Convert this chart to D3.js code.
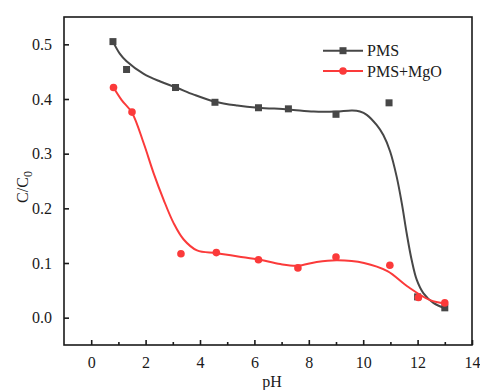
<!DOCTYPE html>
<html>
<head>
<meta charset="utf-8">
<script src="https://cdn.jsdelivr.net/npm/d3@7"></script>
<style>
  html, body { margin: 0; padding: 0; background: #ffffff; }
  svg { display: block; }
  text { font-family: "Liberation Serif", "Times New Roman", serif; fill: #1a1a1a; }
</style>
</head>
<body>
<svg id="chart" width="480" height="390"></svg>
<script>
// Measured points: pH vs C/C0
const phPMS  = [0.8, 1.3, 3.1, 4.55, 6.15, 7.25, 9.0, 10.95, 12.0, 13.0];
const valPMS = [0.505, 0.454, 0.421, 0.394, 0.384, 0.382, 0.372, 0.393, 0.038, 0.018];
const phMgO  = [0.82, 1.5, 3.3, 4.6, 6.15, 7.6, 9.0, 10.98, 12.03, 13.0];
const valMgO = [0.421, 0.376, 0.117, 0.119, 0.106, 0.091, 0.111, 0.096, 0.037, 0.027];

// Fitted trend lines (pH, C/C0)
const fitPMS = [
  [0.8, 0.505], [1.05, 0.483], [1.3, 0.469], [1.93, 0.446], [2.54, 0.432], [3.13, 0.421],
  [3.77, 0.408], [4.55, 0.395], [5.37, 0.388], [6.14, 0.384], [7.26, 0.381],
  [8.18, 0.377], [8.99, 0.377], [9.6, 0.379], [9.88, 0.377], [10.13, 0.371],
  [10.5, 0.352], [10.74, 0.334], [10.99, 0.304], [11.23, 0.258], [11.42, 0.209],
  [11.6, 0.154], [11.78, 0.106], [11.97, 0.069], [12.21, 0.045], [12.58, 0.027],
  [12.96, 0.018]
];
const fitMgO = [
  [0.82, 0.421], [1.12, 0.398], [1.5, 0.375], [1.93, 0.319], [2.29, 0.265],
  [2.66, 0.216], [3.03, 0.173], [3.4, 0.143], [3.89, 0.123], [4.6, 0.118],
  [5.4, 0.112], [6.2, 0.106], [6.95, 0.098], [7.58, 0.095], [8.29, 0.102],
  [9.05, 0.105], [10.03, 0.100], [10.89, 0.085], [11.63, 0.057], [12.46, 0.032],
  [13.0, 0.026]
];

const xTicks = [0, 2, 4, 6, 8, 10, 12, 14];
const xMinorTicks = [1, 3, 5, 7, 9, 11, 13];
const yTicks = [0.0, 0.1, 0.2, 0.3, 0.4, 0.5];
const seriesNames = ["PMS", "PMS+MgO"];

const colPMS = "#474747";
const colMgO = "#fb3a3a";

const svg = d3.select("#chart");
const plotLeft = 64, plotRight = 472, plotTop = 17, plotBottom = 345;

const x = d3.scaleLinear().domain([-1, 14]).range([plotLeft, plotRight]);
const y = d3.scaleLinear().domain([-0.05, 0.55]).range([plotBottom, plotTop]);

// Plot frame
svg.append("rect")
  .attr("x", plotLeft).attr("y", plotTop)
  .attr("width", plotRight - plotLeft).attr("height", plotBottom - plotTop)
  .attr("fill", "none").attr("stroke", "#1a1a1a").attr("stroke-width", 1.6);

// Axes with inward ticks
const xAxis = svg.append("g").attr("transform", `translate(0,${plotBottom})`)
  .call(d3.axisBottom(x).tickValues(xTicks).tickSizeInner(-5).tickSizeOuter(0)
    .tickPadding(12).tickFormat(d3.format("d")));
const xMinor = svg.append("g").attr("transform", `translate(0,${plotBottom})`)
  .call(d3.axisBottom(x).tickValues(xMinorTicks).tickSizeInner(-3).tickSizeOuter(0)
    .tickFormat(""));
const yAxis = svg.append("g").attr("transform", `translate(${plotLeft},0)`)
  .call(d3.axisLeft(y).tickValues(yTicks).tickSizeInner(-5).tickSizeOuter(0)
    .tickPadding(12).tickFormat(d3.format(".1f")));

[xAxis, xMinor, yAxis].forEach(g => {
  g.select(".domain").remove();
  g.selectAll("line").attr("stroke", "#1a1a1a").attr("stroke-width", 1.6);
  g.selectAll("text").attr("font-size", 16)
    .attr("font-family", "'Liberation Serif', 'Times New Roman', serif")
    .attr("fill", "#1a1a1a");
});

// Axis titles
svg.append("text")
  .attr("x", (plotLeft + plotRight) / 2 + 4).attr("y", 387)
  .attr("text-anchor", "middle").attr("font-size", 16).text("pH");

const yt = svg.append("text")
  .attr("transform", "translate(28,187) rotate(-90)")
  .attr("text-anchor", "middle").attr("font-size", 16);
yt.append("tspan").text("C/C");
yt.append("tspan").attr("font-size", 12).attr("dy", 4).text("0");

// Trend lines
const line = d3.line()
  .x(d => x(d[0])).y(d => y(d[1]))
  .curve(d3.curveCatmullRom.alpha(0.5));

svg.append("path").datum(fitPMS).attr("d", line)
  .attr("fill", "none").attr("stroke", colPMS).attr("stroke-width", 2);

svg.append("g").selectAll("rect").data(phPMS.map((p, i) => [p, valPMS[i]]))
  .join("rect")
  .attr("x", d => x(d[0]) - 3.5).attr("y", d => y(d[1]) - 3.5)
  .attr("width", 7).attr("height", 7).attr("fill", colPMS);

svg.append("path").datum(fitMgO).attr("d", line)
  .attr("fill", "none").attr("stroke", colMgO).attr("stroke-width", 2);

svg.append("g").selectAll("circle").data(phMgO.map((p, i) => [p, valMgO[i]]))
  .join("circle")
  .attr("cx", d => x(d[0])).attr("cy", d => y(d[1]))
  .attr("r", 3.8).attr("fill", colMgO);

// Legend
const legend = svg.append("g");
const legendRows = [
  { name: seriesNames[0], color: colPMS, shape: "square", y: 50.7 },
  { name: seriesNames[1], color: colMgO, shape: "circle", y: 71 }
];
legendRows.forEach(r => {
  legend.append("line")
    .attr("x1", 323).attr("x2", 363).attr("y1", r.y).attr("y2", r.y)
    .attr("stroke", r.color).attr("stroke-width", 2);
  if (r.shape === "square") {
    legend.append("rect").attr("x", 343 - 3.5).attr("y", r.y - 3.5)
      .attr("width", 7).attr("height", 7).attr("fill", r.color);
  } else {
    legend.append("circle").attr("cx", 343).attr("cy", r.y).attr("r", 3.8)
      .attr("fill", r.color);
  }
  legend.append("text").attr("x", 367).attr("y", r.y + 5.5)
    .attr("font-size", 16).text(r.name);
});
</script>
</body>
</html>
